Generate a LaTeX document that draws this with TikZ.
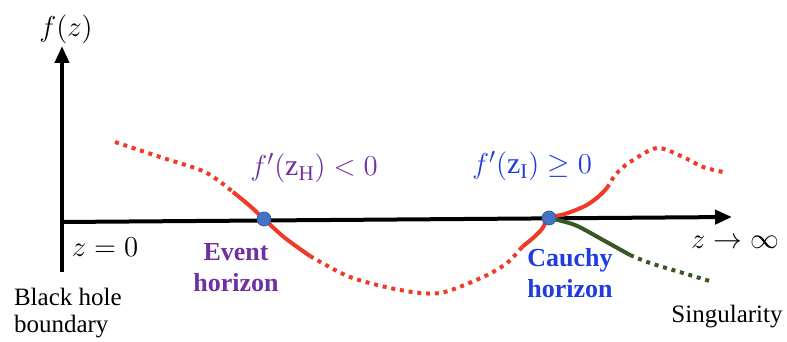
\documentclass[tikz,border=0pt]{standalone}
\usepackage{fontspec}
\setmainfont{LiberationSerif}[Extension=.ttf, UprightFont=*-Regular,
  BoldFont=*-Bold, ItalicFont=*-Italic, BoldItalicFont=*-BoldItalic]
\usetikzlibrary{positioning, arrows.meta}

\definecolor{evpurple}{RGB}{112,48,160}
\definecolor{chblue}{RGB}{30,60,225}
\definecolor{curvered}{RGB}{240,58,40}
\definecolor{singgreen}{RGB}{56,87,35}
\definecolor{dotblue}{RGB}{68,114,196}

\begin{document}
\begin{tikzpicture}[x=0.5pt, y=-0.5pt,
    axis/.style={line width=2pt, -{Triangle[length=8.5pt, width=7pt]}},
    solidpart/.style={line width=2pt},
    dotpart/.style={line width=2pt, dash pattern=on 2pt off 2.4pt},
    hdot/.style={circle, fill=dotblue, draw=dotblue!80!black, line width=0.4pt,
                 inner sep=0pt, minimum size=7pt},
    lbl/.style={font=\rmfamily\fontsize{12.5}{13.5}\selectfont, align=left},
    hlabel/.style={font=\rmfamily\fontsize{13}{15.5}\selectfont\bfseries, align=center},
    mlabel/.style={font=\fontsize{15}{17}\selectfont}
  ]
  \useasboundingbox (0,0) rectangle (787,342);

  % axes
  \coordinate (ybot)   at (62,272);
  \coordinate (ytip)   at (62,46);
  \coordinate (origin) at (62,222);
  \coordinate (xtip)   at (732,217);
  \draw[axis] (ybot) -- (ytip);
  \draw[axis] (origin) -- (xtip);

  % red curve f(z)
  \draw[dotpart, curvered] plot[smooth] coordinates
    {(115,142) (160,157) (205,172) (233,192)};
  \draw[solidpart, curvered] plot[smooth] coordinates
    {(233,192) (250,206) (264,219) (285,238) (310,256)};
  \draw[dotpart, curvered] plot[smooth] coordinates
    {(310,256) (350,277) (400,290) (440,293) (483,277) (507,263) (522,247)};
  \draw[solidpart, curvered] plot[smooth] coordinates
    {(522,247) (533,238) (542,229) (549,218) (565,214) (585,206) (598,197) (607,188)};
  \draw[dotpart, curvered] plot[smooth] coordinates
    {(607,188) (616,174) (630,162) (657,148) (683,157) (703,167) (723,172)};

  % green branch
  \draw[solidpart, singgreen] plot[smooth] coordinates
    {(549,218) (575,225) (603,240) (630,255)};
  \draw[dotpart, singgreen] plot[smooth] coordinates
    {(630,255) (650,263) (683,273) (713,282)};

  % horizons
  \node[hdot] (evdot) at (264,219) {};
  \node[hdot] (cadot) at (549,218) {};

  % labels
  \node[mlabel] (fz) at (66,29) {$f(z)$};
  \node[mlabel] (zzero) at (105,247) {$z=0$};
  \node[lbl, anchor=west] (bhb) at (7,313) {Black hole\\boundary};
  \node[hlabel, text=evpurple] (evh) at (236,268) {Event\\horizon};
  \node[mlabel, text=evpurple] (fh) at (314,168) {$f'(\mathrm{z}_{\mathrm{H}})<0$};
  \node[hlabel, text=chblue] (cah) at (570,273) {Cauchy\\horizon};
  \node[mlabel, text=chblue] (fi) at (532,166) {$f'(\mathrm{z}_{\mathrm{I}})\geq 0$};
  \node[mlabel] (zinf) at (735,242) {$z\to\infty$};
  \node[lbl] (sing) at (727,317) {Singularity};
\end{tikzpicture}
\end{document}
